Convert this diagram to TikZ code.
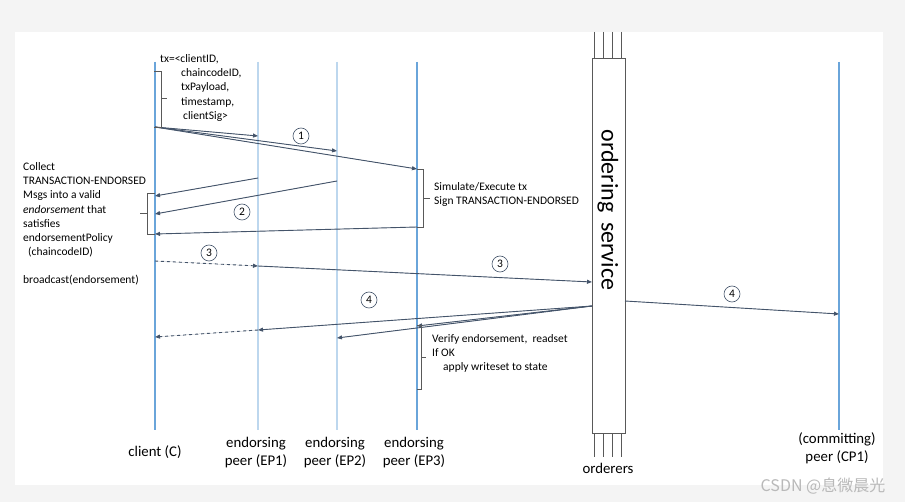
\documentclass[tikz,border=0pt]{standalone}
\usepackage{fontspec}
\setmainfont{Carlito}
\newfontfamily\wmfont{Noto Sans CJK SC}
\usetikzlibrary{arrows.meta}
\definecolor{lifeblue}{HTML}{6AA5DA}
\definecolor{lightlife}{HTML}{BDD7EE}
\definecolor{msgcol}{HTML}{44546A}
\definecolor{bracecol}{HTML}{595959}
\definecolor{framegray}{HTML}{F4F4F4}
\tikzset{
  lifeline/.style={draw=lifeblue,line width=1.2pt},
  eplife/.style={draw=lightlife,line width=2pt},
  msg/.style={draw=msgcol,fill=msgcol,line width=0.9pt,-{Triangle[length=5pt,width=4pt]}},
  bracket/.style={draw=bracecol,line width=0.8pt},
  stepnum/.style={circle,draw=msgcol,line width=0.6pt,minimum size=16pt,inner sep=0pt,font=\fontsize{11.5}{12}\selectfont},
  note/.style={font=\fontsize{11.5}{14.3}\selectfont,align=left,inner sep=0pt,anchor=north west},
  actor/.style={font=\fontsize{14.8}{18}\selectfont,align=center,inner sep=0pt}
}
\begin{document}
\begin{tikzpicture}[x=1pt,y=-1pt]
\fill[framegray] (0,0) rectangle (905,502);
\fill[white] (15,32) rectangle (883,485);
% lifelines
\coordinate (C-top) at (155,62); \coordinate (C-bot) at (155,430);
\coordinate (EP1-top) at (258,62); \coordinate (EP1-bot) at (258,430);
\coordinate (EP2-top) at (337,62); \coordinate (EP2-bot) at (337,430);
\coordinate (EP3-top) at (417,62); \coordinate (EP3-bot) at (417,430);
\coordinate (CP1-top) at (839,62); \coordinate (CP1-bot) at (839,430);
\draw[lifeline] (C-top) -- (C-bot);
\draw[eplife] (EP1-top) -- (EP1-bot);
\draw[eplife] (EP2-top) -- (EP2-bot);
\draw[lifeline] (EP3-top) -- (EP3-bot);
\draw[lifeline] (CP1-top) -- (CP1-bot);
\node[actor] (C) at (155,452) {client (C)};
\node[actor] (EP1) at (256,453) {endorsing\\peer (EP1)};
\node[actor] (EP2) at (335,453) {endorsing\\peer (EP2)};
\node[actor] (EP3) at (414,453) {endorsing\\peer (EP3)};
\node[actor] (CP1) at (837,448) {(committing)\\peer (CP1)};
% ordering service
\foreach \x in {594,603,612,621} {
  \draw[bracecol,line width=0.7pt] (\x,32) -- (\x,58);
  \draw[bracecol,line width=0.7pt] (\x,433) -- (\x,457);
}
\node[draw=bracecol,fill=white,line width=0.9pt,minimum width=33pt,minimum height=375pt,inner sep=0pt] (OS) at (608.5,245.5) {};
\node[rotate=-90,font=\fontsize{24}{24}\selectfont,inner sep=0pt] (OS-text) at (608,210) {ordering\, service};
\node[actor] (ORD) at (608,468) {orderers};
% message end points
\coordinate (c1) at (155,127); \coordinate (e1a) at (258,136); \coordinate (e2a) at (337,151); \coordinate (e3a) at (417,169);
\coordinate (e1b) at (258,178); \coordinate (c2) at (155,196);
\coordinate (e2b) at (337,181); \coordinate (c3) at (155,214);
\coordinate (e3b) at (417,227); \coordinate (c4) at (155,234);
\coordinate (c5) at (155,261); \coordinate (e1c) at (258,266); \coordinate (os1) at (592,282);
\coordinate (os2) at (592,306); \coordinate (e1d) at (258,330); \coordinate (c6) at (155,337);
\coordinate (e3d) at (417,326); \coordinate (e2d) at (337,338);
\coordinate (os3) at (625,301); \coordinate (cp1) at (839,314);
% 1
\draw[msg] (c1) -- (e1a);
\draw[msg] (c1) -- (e2a);
\draw[msg] (c1) -- (e3a);
% 2
\draw[msg] (e1b) -- (c2);
\draw[msg] (e2b) -- (c3);
\draw[msg] (e3b) -- (c4);
% 3
\draw[msg,dashed] (c5) -- (e1c);
\draw[msg] (e1c) -- (os1);
% 4
\draw[msg] (os2) -- (e1d);
\draw[msg,dashed] (e1d) -- (c6);
\draw[msg] (os2) -- (e3d);
\draw[msg] (os2) -- (e2d);
\draw[msg] (os3) -- (cp1);
\node[stepnum] (n1) at (301,136) {1};
\node[stepnum] (n2) at (242,212) {2};
\node[stepnum] (n3a) at (209,253) {3};
\node[stepnum] (n3b) at (500,264) {3};
\node[stepnum] (n4a) at (369,300) {4};
\node[stepnum] (n4b) at (732,294) {4};
% brackets and notes
\draw[bracket] (154,71) -- (161,71) -- (161,127) -- (154,127) (161,98) -- (167,98);
\draw[bracket] (417,169) -- (423,169) -- (423,227) -- (417,227) (423,198) -- (430,198);
\draw[bracket] (155,193) -- (147,193) -- (147,234) -- (155,234) (147,213) -- (140,213);
\draw[bracket] (417,325) -- (421,325) -- (421,389) -- (417,389) (421,357) -- (426,357);
\node[note] (tx) at (160,54) {tx=<clientID,\\\hspace*{21pt}chaincodeID,\\\hspace*{21pt}txPayload,\\\hspace*{21pt}timestamp,\\\hspace*{23pt}clientSig>};
\node[note] (sim) at (434,182) {Simulate/Execute tx\\Sign TRANSACTION-ENDORSED};
\node[note] (coll) at (23,162) {Collect\\TRANSACTION-ENDORSED\\Msgs into a valid\\\textit{endorsement} that\\satisfies\\endorsementPolicy\\\hspace*{5pt}(chaincodeID)};
\node[note] (bc) at (23,275) {broadcast(endorsement)};
\node[note] (ver) at (432,334) {Verify endorsement,\ \ readset\\If OK\\\hspace*{11pt}apply writeset to state};
\node[font=\wmfont\fontsize{16}{16}\selectfont,text=gray!55,inner sep=0pt] (wm) at (823,486) {CSDN @息微晨光};
\end{tikzpicture}
\end{document}
